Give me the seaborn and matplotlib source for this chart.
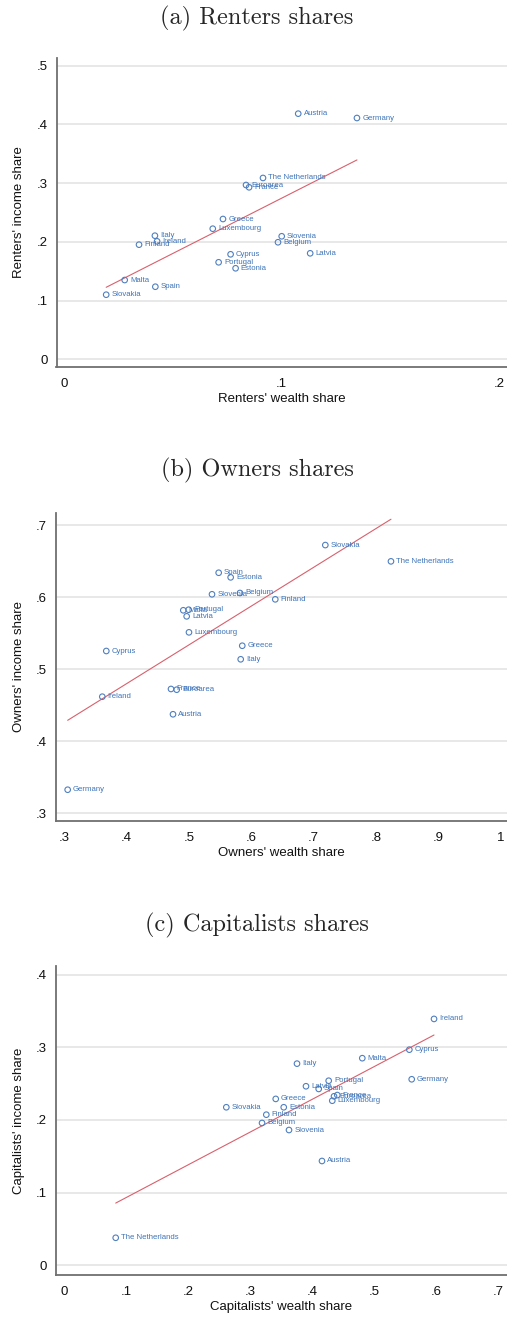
import numpy as np
import pandas as pd
import matplotlib
matplotlib.use("Agg")
import matplotlib.pyplot as plt
from matplotlib.ticker import FuncFormatter
import seaborn as sns

# ---- data -------------------------------------------------------------
renters_country = ["Austria", "Germany", "The Netherlands", "Euroarea", "France",
                   "Greece", "Luxembourg", "Slovenia", "Belgium", "Latvia",
                   "Cyprus", "Portugal", "Estonia", "Italy", "Ireland",
                   "Finland", "Malta", "Spain", "Slovakia"]
renters_wealth = [0.1077, 0.1347, 0.0915, 0.0837, 0.0851,
                  0.0731, 0.0684, 0.1001, 0.0984, 0.1132,
                  0.0766, 0.0711, 0.0789, 0.0418, 0.0428,
                  0.0345, 0.0279, 0.0420, 0.0194]
renters_income = [0.4183, 0.4109, 0.3088, 0.2968, 0.2929,
                  0.2389, 0.2224, 0.2095, 0.1993, 0.1805,
                  0.1788, 0.1652, 0.1550, 0.2105, 0.2009,
                  0.1952, 0.1350, 0.1236, 0.1100]

owners_country = ["Spain", "Estonia", "Slovenia", "Belgium", "Finland",
                  "Malta", "Portugal", "Latvia", "Luxembourg", "Cyprus",
                  "Greece", "Italy", "Ireland", "France", "Euroarea",
                  "Austria", "Germany", "Slovakia", "The Netherlands"]
owners_wealth = [0.5479, 0.5671, 0.5372, 0.5820, 0.6386,
                 0.4912, 0.4998, 0.4966, 0.5003, 0.3678,
                 0.5857, 0.5832, 0.3614, 0.4715, 0.4806,
                 0.4747, 0.3059, 0.7188, 0.8240]
owners_income = [0.6338, 0.6274, 0.6039, 0.6057, 0.5969,
                 0.5817, 0.5825, 0.5733, 0.5511, 0.5252,
                 0.5325, 0.5137, 0.4618, 0.4725, 0.4715,
                 0.4374, 0.3327, 0.6722, 0.6496]

capitalists_country = ["Ireland", "Cyprus", "Malta", "Italy", "Germany",
                       "Portugal", "Latvia", "Spain", "France", "Euroarea",
                       "Luxembourg", "Greece", "Slovakia", "Estonia", "Finland",
                       "Belgium", "Slovenia", "Austria", "The Netherlands"]
capitalists_wealth = [0.5968, 0.5570, 0.4811, 0.3758, 0.5608,
                      0.4269, 0.3903, 0.4108, 0.4408, 0.4355,
                      0.4327, 0.3415, 0.2618, 0.3544, 0.3263,
                      0.3194, 0.3629, 0.4161, 0.0834]
capitalists_income = [0.3390, 0.2967, 0.2850, 0.2775, 0.2560,
                      0.2540, 0.2464, 0.2427, 0.2343, 0.2326,
                      0.2265, 0.2290, 0.2175, 0.2175, 0.2073,
                      0.1959, 0.1862, 0.1436, 0.0380]

panels = [
    dict(title="(a) Renters shares", names=renters_country,
         x=renters_wealth, y=renters_income,
         xlabel="Renters' wealth share", ylabel="Renters' income share",
         xticks=np.arange(0, 0.21, 0.1), yticks=np.arange(0, 0.51, 0.1),
         xlim=(-0.00345, 0.2037), ylim=(-0.0126, 0.5136),
         rect=[56.5, 57.7, 507, 366.7], title_y=18),
    dict(title="(b) Owners shares", names=owners_country,
         x=owners_wealth, y=owners_income,
         xlabel="Owners' wealth share", ylabel="Owners' income share",
         xticks=np.arange(0.3, 1.01, 0.1), yticks=np.arange(0.3, 0.71, 0.1),
         xlim=(0.2872, 1.00996), ylim=(0.2893, 0.7167),
         rect=[56.0, 513, 507, 821], title_y=470),
    dict(title="(c) Capitalists shares", names=capitalists_country,
         x=capitalists_wealth, y=capitalists_income,
         xlabel="Capitalists' wealth share", ylabel="Capitalists' income share",
         xticks=np.arange(0, 0.71, 0.1), yticks=np.arange(0, 0.41, 0.1),
         xlim=(-0.0129, 0.7145), ylim=(-0.0132, 0.4118),
         rect=[56.0, 966, 507, 1275], title_y=925),
]

# ---- style ------------------------------------------------------------
sns.set_style("white")
plt.rcParams["font.family"] = ["Liberation Sans", "DejaVu Sans"]

W, H = 507, 1321
fig = plt.figure(figsize=(W / 100, H / 100), dpi=100)

marker_col = "#4f7fbf"
label_col = "#3d73b8"
fit_col = "#d9606c"
grid_col = "#e4e4e4"
spine_col = "#707070"


def stata_fmt(v, pos):
    s = f"{v:.1f}"
    if s == "0.0":
        return "0"
    if s == "1.0":
        return "1"
    return s.lstrip("0")


for p in panels:
    l, t, r, b = p["rect"]
    ax = fig.add_axes([l / W, 1 - b / H, (r - l) / W, (b - t) / H])
    df = pd.DataFrame({"country": p["names"], "wealth": p["x"], "income": p["y"]})

    # fitted line over the observed range
    sns.regplot(data=df, x="wealth", y="income", ax=ax, scatter=False, ci=None,
                line_kws=dict(color=fit_col, lw=0.8), truncate=True)
    sns.scatterplot(data=df, x="wealth", y="income", ax=ax, marker="o", s=16,
                    facecolor="none", edgecolor=marker_col, linewidth=0.8, zorder=3)
    for _, row in df.iterrows():
        ax.annotate(row["country"], (row["wealth"], row["income"]),
                    xytext=(3.8, 0), textcoords="offset points",
                    va="center", ha="left", fontsize=5.6, color=label_col)

    ax.set_xlim(*p["xlim"])
    ax.set_ylim(*p["ylim"])
    ax.set_xticks(p["xticks"])
    ax.set_yticks(p["yticks"])
    ax.xaxis.set_major_formatter(FuncFormatter(stata_fmt))
    ax.yaxis.set_major_formatter(FuncFormatter(stata_fmt))
    ax.tick_params(axis="both", length=0, labelsize=9.5, colors="#111111")
    ax.tick_params(axis="x", pad=8)
    ax.tick_params(axis="y", pad=6.5)
    ax.yaxis.grid(True, color=grid_col, lw=1.2)
    ax.xaxis.grid(False)
    ax.set_axisbelow(True)
    for side in ("top", "right"):
        ax.spines[side].set_visible(False)
    for side in ("left", "bottom"):
        ax.spines[side].set_color(spine_col)
        ax.spines[side].set_linewidth(1.3)

    ax.set_xlabel(p["xlabel"], fontsize=9.5, color="#111111")
    ax.set_ylabel(p["ylabel"], fontsize=9.5, color="#111111")
    hpx = b - t
    wpx = r - l
    ax.xaxis.set_label_coords(0.5, -(32 / hpx))
    ax.xaxis.label.set_va("center")
    ax.yaxis.set_label_coords(-(37 / wpx), 0.5)
    ax.yaxis.label.set_va("center")

    fig.text(0.507, 1 - p["title_y"] / H, p["title"], ha="center", va="center",
             fontsize=17.5, family="cmr10")

fig.savefig("out.png", dpi=100)
